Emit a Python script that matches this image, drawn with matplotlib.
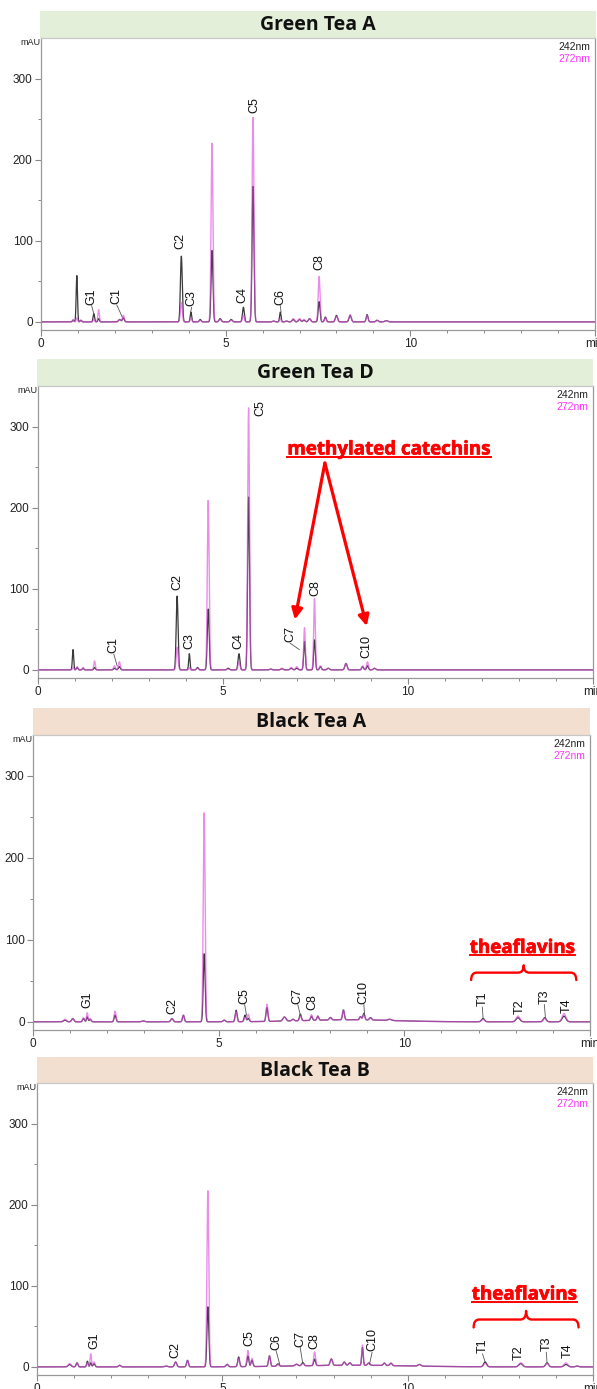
import numpy as np
import matplotlib
matplotlib.use("Agg")
import matplotlib.pyplot as plt
from matplotlib.path import Path
from matplotlib.patches import PathPatch
from matplotlib.lines import Line2D
import matplotlib.patheffects as pe

# ---------------- data ----------------
panel_titles = ["Green Tea A", "Green Tea D", "Black Tea A", "Black Tea B"]
header_colors = ["#e3efd9", "#e3efd9", "#f2dfd0", "#f2dfd0"]
wavelength_labels = ["242nm", "272nm"]
x_tick_values = [0, 5, 10, 15]
x_tick_labels = ["0", "5", "10", "min"]
y_tick_values = [0, 100, 200, 300]

# Green Tea A : retention time (min), height 242 nm, height 272 nm, peak width (min)
gta_rt = [0.87, 0.97, 1.08, 1.43, 1.56, 2.13, 2.23, 3.80, 4.06, 4.31, 4.63, 4.85, 5.15, 5.48,
          5.74, 6.30, 6.48, 6.65, 6.83, 7.00, 7.12, 7.27, 7.53, 7.70, 8.00, 8.37, 8.83, 9.10, 9.35]
gta_h242 = [2, 57, 2, 10, 4, 3, 5, 81, 12, 3, 88, 4, 3, 18,
            167, 1, 12, 1, 3, 3, 2, 4, 25, 6, 8, 8, 9, 2, 1.5]
gta_h272 = [3, 5, 2, 3, 15, 3, 8, 24, 5, 2, 220, 3, 2, 8,
            252, 1, 4, 1, 4, 4, 3, 4, 56, 5, 7, 9, 8, 2, 1.5]
gta_w = [0.02, 0.018, 0.02, 0.02, 0.02, 0.03, 0.025, 0.025, 0.02, 0.025, 0.025, 0.03, 0.03, 0.025,
         0.025, 0.03, 0.02, 0.03, 0.03, 0.03, 0.03, 0.03, 0.025, 0.025, 0.03, 0.03, 0.025, 0.03, 0.04]
gta_labels = ["G1", "C1", "C2", "C3", "C4", "C5", "C6", "C8"]
gta_lab_t = [1.37, 2.05, 3.78, 4.08, 5.44, 5.77, 6.48, 7.53]
gta_lab_y = [21, 22, 90, 19, 23, 257, 21, 64]
gta_lead_t = [1.43, 2.20, None, 4.05, None, None, 6.50, None]
gta_lead_y = [10, 6, None, 12, None, None, 12, None]

# Green Tea D
gtd_rt = [0.96, 1.07, 1.23, 1.54, 2.08, 2.21, 3.77, 4.10, 4.32, 4.61, 5.15, 5.44, 5.70, 6.30,
          6.60, 6.85, 7.00, 7.21, 7.48, 7.64, 7.85, 8.33, 8.78, 8.91, 9.10]
gtd_h242 = [25, 3, 2, 3, 2, 4, 91, 20, 3, 75, 2, 20, 213, 1,
            1.5, 2, 2, 35, 37, 4, 2, 8, 4, 5, 2]
gtd_h272 = [3, 4, 3, 11, 5, 10, 28, 3, 2, 209, 1, 10, 323, 1,
            2, 3, 4, 52, 88, 5, 2, 8, 5, 10, 2]
gtd_w = [0.018, 0.02, 0.02, 0.02, 0.025, 0.025, 0.025, 0.018, 0.025, 0.025, 0.03, 0.025, 0.025, 0.03,
         0.03, 0.03, 0.03, 0.022, 0.022, 0.025, 0.03, 0.03, 0.025, 0.025, 0.03]
gtd_labels = ["C1", "C2", "C3", "C4", "C5", "C7", "C8", "C10"]
gtd_lab_t = [2.06, 3.77, 4.11, 5.42, 6.02, 6.82, 7.50, 8.89]
gtd_lab_y = [20.5, 99, 26, 26, 313, 34, 91, 15]
gtd_lead_t = [2.15, None, None, None, None, 7.07, None, None]
gtd_lead_y = [5, None, None, None, None, 25, None, None]
gtd_note = "methylated catechins"
gtd_note_t, gtd_note_y = 9.49, 265.6
gtd_arrow_from = (7.76, 255)
gtd_arrow_to_t = [6.95, 8.89]
gtd_arrow_to_y = [62, 54]

# Black Tea A
bta_rt = [0.86, 1.07, 1.36, 1.46, 1.54, 2.21, 2.97, 3.74, 4.05, 4.61, 5.15, 5.47, 5.71, 5.80, 6.30,
          6.77, 7.00, 7.20, 7.50, 7.67, 8.01, 8.36, 8.82, 8.91, 9.09, 9.60, 8.50,
          12.12, 13.06, 13.78, 14.30]
bta_h242 = [2, 4, 4, 6, 3, 8, 1, 4, 8, 83, 2, 14, 8, 4, 17,
            5, 2, 8, 5, 5, 3, 12, 4, 8, 3, 1.5, 2.5,
            4, 5, 5, 7]
bta_h272 = [3, 4, 5, 11, 4, 13, 1, 4, 8, 255, 2, 12, 5, 9, 21,
            5, 2, 6, 7, 5, 3, 12, 4, 7, 3, 1.5, 2.5,
            3, 7, 4, 10]
bta_w = [0.04, 0.03, 0.025, 0.02, 0.025, 0.025, 0.04, 0.03, 0.025, 0.025, 0.03, 0.025, 0.025, 0.025, 0.025,
         0.04, 0.03, 0.025, 0.025, 0.025, 0.03, 0.025, 0.025, 0.025, 0.03, 0.05, 1.2,
         0.04, 0.05, 0.04, 0.05]
bta_labels = ["G1", "C2", "C5", "C7", "C8", "C10", "T1", "T2", "T3", "T4"]
bta_lab_t = [1.46, 3.74, 5.70, 7.13, 7.52, 8.91, 12.10, 13.12, 13.77, 14.37]
bta_lab_y = [17, 10, 22, 22, 15, 22, 19, 10, 22, 10.6]
bta_lead_t = [None, None, 5.75, 7.20, None, 8.93, 12.12, None, 13.80, None]
bta_lead_y = [None, None, 8, 8, None, 8, 5, None, 5, None]
bta_note = "theaflavins"
bta_note_t, bta_note_y = 13.18, 84
bta_brace = (11.80, 14.63, 51, 60, 69)

# Black Tea B
btb_rt = [0.88, 1.08, 1.36, 1.45, 1.54, 2.23, 3.48, 3.74, 4.06, 4.61, 5.13, 5.44, 5.69, 5.80, 6.27,
          6.50, 7.00, 7.17, 7.49, 7.94, 8.29, 8.44, 8.78, 8.95, 9.37, 9.55, 10.32, 8.50,
          12.09, 13.05, 13.76, 14.27, 14.57]
btb_h242 = [3, 5, 7, 5, 4, 2, 1, 6, 8, 74, 3, 12, 13, 8, 13,
            3, 2, 4, 8, 8, 4, 3, 22, 3, 3, 3, 2, 2,
            6, 4, 5, 3, 1]
btb_h272 = [4, 5, 5, 16, 6, 2, 1, 6, 8, 217, 3, 10, 20, 10, 13,
            2, 2, 3, 17, 8, 4, 3, 25, 3, 3, 3, 2, 2,
            4, 5, 4, 5, 1]
btb_w = [0.04, 0.025, 0.02, 0.02, 0.025, 0.03, 0.04, 0.03, 0.025, 0.025, 0.03, 0.025, 0.025, 0.025, 0.025,
         0.03, 0.04, 0.03, 0.025, 0.03, 0.03, 0.03, 0.02, 0.03, 0.03, 0.03, 0.04, 1.5,
         0.04, 0.05, 0.04, 0.05, 0.04]
btb_labels = ["G1", "C2", "C5", "C6", "C7", "C8", "C10", "T1", "T2", "T3", "T4"]
btb_lab_t = [1.54, 3.74, 5.73, 6.45, 7.10, 7.49, 9.04, 12.02, 13.00, 13.74, 14.32]
btb_lab_y = [22, 10.6, 25.7, 21, 25, 22, 19, 17, 9, 19, 10.6]
btb_lead_t = [None, None, None, 6.55, 7.17, None, 8.97, 12.09, None, 13.76, None]
btb_lead_y = [None, None, None, 3, 4, None, 3, 6, None, 5, None]
btb_note = "theaflavins"
btb_note_t, btb_note_y = 13.15, 83
btb_brace = (11.78, 14.61, 48.6, 58.4, 69)

# ---------------- layout (pixels) ----------------
W, H = 597, 1389
fig = plt.figure(figsize=(W / 100, H / 100), dpi=100)

# (left, right, header_top, header_bottom/axes_top, axes_bottom, header_left, header_right)
layout = [
    (41, 595, 11, 38, 330, 40, 596),
    (37.5, 593, 359, 386, 678, 37, 593),
    (33, 590, 708, 735, 1030, 33, 590),
    (37, 593, 1057, 1083, 1375, 37, 593),
]

BLACK = "#3a3a3a"
MAG = "#e050e0"
MAG_TXT = "#ff33ff"
TICK_FONT = "Liberation Sans"
TITLE_FONT = "Open Sans"


def px_rect(l, r, t, b):
    return [l / W, 1 - b / H, (r - l) / W, (b - t) / H]


def trace(tgrid, rt, h, w):
    y = np.zeros_like(tgrid)
    for c, a, s in zip(rt, h, w):
        y += a * np.exp(-0.5 * ((tgrid - c) / s) ** 2)
    return y


def brace(ax, spec):
    t0, t1, yb, yh, ytip = spec
    tm = 0.5 * (t0 + t1)
    r = 0.15
    verts = [(t0, yb), (t0, yh), (t0 + r, yh), (tm - r, yh), (tm, yh), (tm, ytip),
             (tm, yh), (tm + r, yh), (t1 - r, yh), (t1, yh), (t1, yb)]
    codes = [Path.MOVETO, Path.CURVE3, Path.CURVE3, Path.LINETO, Path.CURVE3, Path.CURVE3,
             Path.CURVE3, Path.CURVE3, Path.LINETO, Path.CURVE3, Path.CURVE3]
    ax.add_patch(PathPatch(Path(verts, codes), fill=False, edgecolor="red", lw=1.7,
                           capstyle="round", joinstyle="round"))


underline_texts = []


def red_note(ax, text, t, y, size):
    txt = ax.text(t, y, text, ha="center", va="baseline", color="red", fontsize=size,
                  fontweight="bold", family=TITLE_FONT,
                  path_effects=[pe.withStroke(linewidth=0.5, foreground="red")])
    underline_texts.append(txt)


panels = [
    (gta_rt, gta_h242, gta_h272, gta_w, gta_labels, gta_lab_t, gta_lab_y, gta_lead_t, gta_lead_y),
    (gtd_rt, gtd_h242, gtd_h272, gtd_w, gtd_labels, gtd_lab_t, gtd_lab_y, gtd_lead_t, gtd_lead_y),
    (bta_rt, bta_h242, bta_h272, bta_w, bta_labels, bta_lab_t, bta_lab_y, bta_lead_t, bta_lead_y),
    (btb_rt, btb_h242, btb_h272, btb_w, btb_labels, btb_lab_t, btb_lab_y, btb_lead_t, btb_lead_y),
]

tgrid = np.linspace(0, 15, 6001)
axes = []
for i, (lay, pdata) in enumerate(zip(layout, panels)):
    l, r, ht, at, ab, hl, hr = lay
    rt, h242, h272, w, labs, lt, ly, ldt, ldy = pdata

    # header band
    hax = fig.add_axes(px_rect(hl, hr, ht, at))
    hax.set_facecolor(header_colors[i])
    hax.set_xticks([]); hax.set_yticks([])
    for s in hax.spines.values():
        s.set_visible(False)
    hax.text(0.5, 0.47, panel_titles[i], ha="center", va="center", fontsize=14,
             fontweight="bold", family=TITLE_FONT, color="#111111")

    ax = fig.add_axes(px_rect(l, r, at, ab))
    axes.append(ax)
    ax.set_xlim(0, 15)
    ax.set_ylim(-10, 350)
    y242 = trace(tgrid, rt, h242, w)
    y272 = trace(tgrid, rt, h272, w)
    ax.plot(tgrid, y242, color=BLACK, lw=0.9, zorder=2)
    ax.plot(tgrid, y272, color=MAG, lw=1.0, alpha=0.65, zorder=3)

    ax.set_xticks(x_tick_values)
    ax.set_xticklabels(x_tick_labels)
    ax.set_xticks(np.arange(1, 15), minor=True)
    ax.set_yticks(y_tick_values)
    ax.set_yticks([50, 150, 250], minor=True)
    ax.tick_params(which="major", direction="out", length=4, width=0.8, color="#888888",
                   labelsize=8.5, labelcolor="#222222", pad=2)
    ax.tick_params(which="minor", direction="out", length=2.5, width=0.7, color="#888888")
    for lab in ax.get_xticklabels() + ax.get_yticklabels():
        lab.set_family(TICK_FONT)
    for side in ["left", "bottom", "right"]:
        ax.spines[side].set_color("#999999")
        ax.spines[side].set_linewidth(0.9)
    ax.spines["top"].set_color("#c8c8c8")
    ax.spines["top"].set_linewidth(0.9)

    ax.text(0.0, 1.0, "mAU", transform=ax.transAxes, ha="right", va="top", fontsize=6.5,
            family=TICK_FONT, color="#222222")
    ax.text(0.9915, 0.986, wavelength_labels[0], transform=ax.transAxes, ha="right", va="top",
            fontsize=7.5, family=TICK_FONT, color="#222222")
    ax.text(0.9915, 0.945, wavelength_labels[1], transform=ax.transAxes, ha="right", va="top",
            fontsize=7.5, family=TICK_FONT, color=MAG_TXT)

    for name, tx, tyy, pt, py in zip(labs, lt, ly, ldt, ldy):
        ax.text(tx, tyy, name, rotation=90, ha="center", va="bottom", fontsize=9,
                family=TICK_FONT, color="#111111", zorder=5)
        if pt is not None:
            ax.plot([tx, pt], [tyy - 1, py], color="#555555", lw=0.6, zorder=4)

# annotations
ax2 = axes[1]
red_note(ax2, gtd_note, gtd_note_t, gtd_note_y, 13.5)
for tt, yy in zip(gtd_arrow_to_t, gtd_arrow_to_y):
    ax2.annotate("", xy=(tt, yy), xytext=gtd_arrow_from,
                 arrowprops=dict(arrowstyle="-|>", color="red", lw=2.3, mutation_scale=16,
                                 shrinkA=0, shrinkB=0))

red_note(axes[2], bta_note, bta_note_t, bta_note_y, 13.5)
brace(axes[2], bta_brace)
red_note(axes[3], btb_note, btb_note_t, btb_note_y, 13.5)
brace(axes[3], btb_brace)

# underline red notes
fig.canvas.draw()
renderer = fig.canvas.get_renderer()
for txt in underline_texts:
    bb = txt.get_window_extent(renderer)
    xb, yb = txt.axes.transData.transform(txt.get_position())
    yline = yb - 2.5
    fig.add_artist(Line2D([bb.x0 / W, bb.x1 / W], [yline / H, yline / H],
                          transform=fig.transFigure, color="red", lw=1.4))

fig.savefig("out.png", dpi=100)
